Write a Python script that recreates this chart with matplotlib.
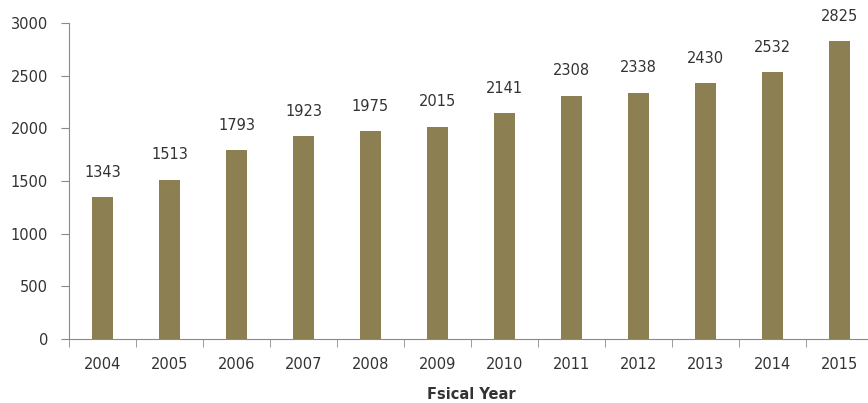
import matplotlib.pyplot as plt
import numpy as np

years = ['2004', '2005', '2006', '2007', '2008', '2009',
         '2010', '2011', '2012', '2013', '2014', '2015']
values = [1343, 1513, 1793, 1923, 1975, 2015,
          2141, 2308, 2338, 2430, 2532, 2825]

bar_color = '#8C8052'
axis_color = '#8a8a8a'
text_color = '#333333'

fig = plt.figure(figsize=(8.68, 4.03), dpi=100)
# the right edge of the plot is cut off in the original, so the axes runs past the figure
ax = fig.add_axes([0.0795, 0.159, 0.926, 0.784])

x = np.arange(len(years))
bars = ax.bar(x, values, width=0.31, color=bar_color)
for xi, v in zip(x, values):
    ax.text(xi, v + 165, str(v), ha='center', va='bottom', fontsize=10.5, color=text_color)

ax.set_xlim(-0.5, len(years) - 0.5)
ax.set_ylim(0, 3000)
ax.set_yticks(range(0, 3001, 500))

ax.set_xticks(x)
ax.set_xticklabels(years)
ax.set_xticks(np.arange(-0.5, len(years), 1), minor=True)
ax.tick_params(axis='x', which='major', length=0, pad=13, labelsize=10.5, labelcolor=text_color)
ax.tick_params(axis='x', which='minor', length=6, color=axis_color, direction='out')
ax.tick_params(axis='y', length=6, color=axis_color, labelsize=10.5, labelcolor=text_color, pad=9)

for side in ['top', 'right']:
    ax.spines[side].set_visible(False)
for side in ['left', 'bottom']:
    ax.spines[side].set_color(axis_color)

ax.set_xlabel('Fsical Year', fontsize=10.5, fontweight='bold', color=text_color, labelpad=11)

fig.savefig('out.png', dpi=100)
